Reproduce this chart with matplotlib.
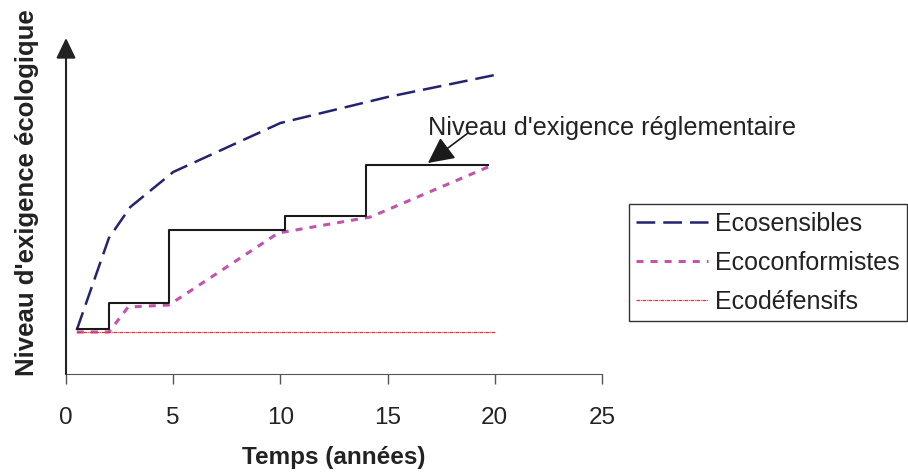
import numpy as np
import matplotlib.pyplot as plt

plt.rcParams['font.family'] = ['Liberation Sans', 'DejaVu Sans']

# donnees (unites arbitraires pour le niveau)
temps_sens = [0.5, 2.0, 3.0, 5.0, 10.0, 15.0, 20.0]
niveau_sens = [2.2, 6.8, 8.35, 10.1, 12.55, 13.85, 14.95]

temps_conf = [0.5, 2.0, 2.9, 4.8, 9.9, 14.2, 19.8]
niveau_conf = [2.1, 2.1, 3.35, 3.45, 7.05, 7.85, 10.4]

temps_def = [0.5, 20.0]
niveau_def = [2.1, 2.1]

temps_regl = [0.5, 2.0, 4.8, 10.2, 14.0, 19.7]
niveau_regl = [2.25, 3.55, 7.2, 7.9, 10.45, 10.45]

xticks = [0, 5, 10, 15, 20, 25]

fig = plt.figure(figsize=(9.08, 4.75), dpi=100)
ax = fig.add_axes([0.0727, 0.2126, 0.5903, 0.7074])

ax.plot(temps_sens, niveau_sens, c='#23236e', lw=1.8, ls=(0, (7.5, 3.2)), label='Ecosensibles')
ax.plot(temps_conf, niveau_conf, c='#c552ad', lw=2.2, ls=(0, (2.3, 2.3)), label='Ecoconformistes')
ax.plot(temps_def, niveau_def, c='#e8303a', lw=0.9, ls=(0, (3, 0.6, 0.6, 0.6)), label='Ecodéfensifs')
ax.plot(temps_regl, niveau_regl, c='#1a1a1a', lw=1.5, drawstyle='steps-post')

ax.set_xlim(0, 25)
ax.set_ylim(0, 16.8)
ax.set_xticks(xticks)
ax.set_yticks([])
ax.tick_params(axis='x', length=7, width=1, color='#555555', pad=17, labelsize=17.5, labelcolor='#222222')

for s in ['top', 'right', 'left']:
    ax.spines[s].set_visible(False)
ax.spines['bottom'].set_color('#555555')

# axe vertical avec fleche
ax.annotate('', xy=(0, 1), xytext=(0, 0), xycoords='axes fraction', textcoords='axes fraction',
            arrowprops=dict(arrowstyle='-|>,head_length=0.62,head_width=0.3', color='#222222',
                            lw=1.5, shrinkA=0, shrinkB=0, mutation_scale=20), annotation_clip=False)

# annotation niveau reglementaire
ax.text(16.88, 12.3, "Niveau d'exigence réglementaire", fontsize=18.2, color='#222222',
        ha='left', va='center', zorder=10)
ax.annotate('', xy=(16.88, 10.55), xytext=(18.75, 12.05),
            arrowprops=dict(arrowstyle='-|>,head_length=0.8,head_width=0.4', color='#1a1a1a',
                            lw=1.2, shrinkA=0, shrinkB=0, mutation_scale=20))

ax.set_xlabel('Temps (années)', fontsize=17.5, fontweight='bold', color='#222222', labelpad=12)
ax.set_ylabel("Niveau d'exigence écologique", fontsize=18.5, fontweight='bold', color='#222222')
ax.yaxis.set_label_coords(-0.05, 0.54)

leg = fig.legend(loc='upper left', bbox_to_anchor=(0.6927, 0.5705),
                 fontsize=18, handlelength=2.85, handletextpad=0.3, borderpad=0.3, labelspacing=0.6,
                 fancybox=False, framealpha=1, edgecolor='#333333', borderaxespad=0)
for t in leg.get_texts():
    t.set_color('#222222')

plt.savefig('out.png', dpi=100)
